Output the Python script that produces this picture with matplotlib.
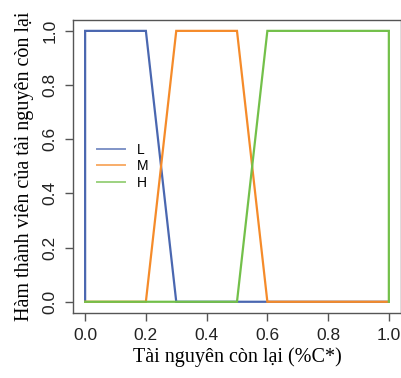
import matplotlib
matplotlib.use("Agg")
import matplotlib.pyplot as plt

# Membership functions (x = remaining resource fraction, y = membership)
x_low = [0.0, 0.0, 0.2, 0.3, 1.0]
y_low = [0.0, 1.0, 1.0, 0.0, 0.0]
x_mid = [0.0, 0.2, 0.3, 0.5, 0.6, 1.0]
y_mid = [0.0, 0.0, 1.0, 1.0, 0.0, 0.0]
x_high = [0.0, 0.5, 0.6, 1.0, 1.0]
y_high = [0.0, 0.0, 1.0, 1.0, 0.0]

labels = ["L", "M", "H"]
colors = ["#4a67b0", "#f58b2a", "#73c04a"]
ticks = [0.0, 0.2, 0.4, 0.6, 0.8, 1.0]
tick_labels = ["0.0", "0.2", "0.4", "0.6", "0.8", "1.0"]

fig = plt.figure(figsize=(4.01, 3.78), dpi=100)
ax = fig.add_axes([0.182, 0.173, 0.818, 0.774])

for xs, ys, lab, col in zip([x_low, x_mid, x_high], [y_low, y_mid, y_high],
                            labels, colors):
    ax.plot(xs, ys, color=col, linewidth=1.6, label=lab,
            solid_joinstyle="miter")

ax.set_xlim(-0.04, 1.04)
ax.set_ylim(-0.04, 1.04)
ax.set_xticks(ticks)
ax.set_xticklabels(tick_labels)
ax.set_yticks(ticks)
ax.set_yticklabels(tick_labels, rotation=90, va="center")

for lbl in ax.get_xticklabels() + ax.get_yticklabels():
    lbl.set_fontfamily("Liberation Sans")
    lbl.set_fontsize(12.5)
    lbl.set_color("#222222")
ax.tick_params(direction="out", length=6, width=1, color="#555555", pad=5)

for sp in ax.spines.values():
    sp.set_color("#555555")
    sp.set_linewidth(1)

ax.set_xlabel("Tài nguyên còn lại (%C*)", family="Liberation Serif",
              fontsize=14.5, labelpad=3)
ax.set_ylabel("Hàm thành viên của tài nguyên còn lại", family="Liberation Serif",
              fontsize=14.5, labelpad=6)

leg = ax.legend(loc="center left", bbox_to_anchor=(0.035, 0.50), frameon=False,
                handlelength=2.0, handletextpad=0.9, labelspacing=0.2,
                prop={"family": "Liberation Sans", "size": 10})
for h in leg.get_lines():
    h.set_alpha(0.7)
    h.set_linewidth(1.4)

fig.savefig("out.png", dpi=100)
